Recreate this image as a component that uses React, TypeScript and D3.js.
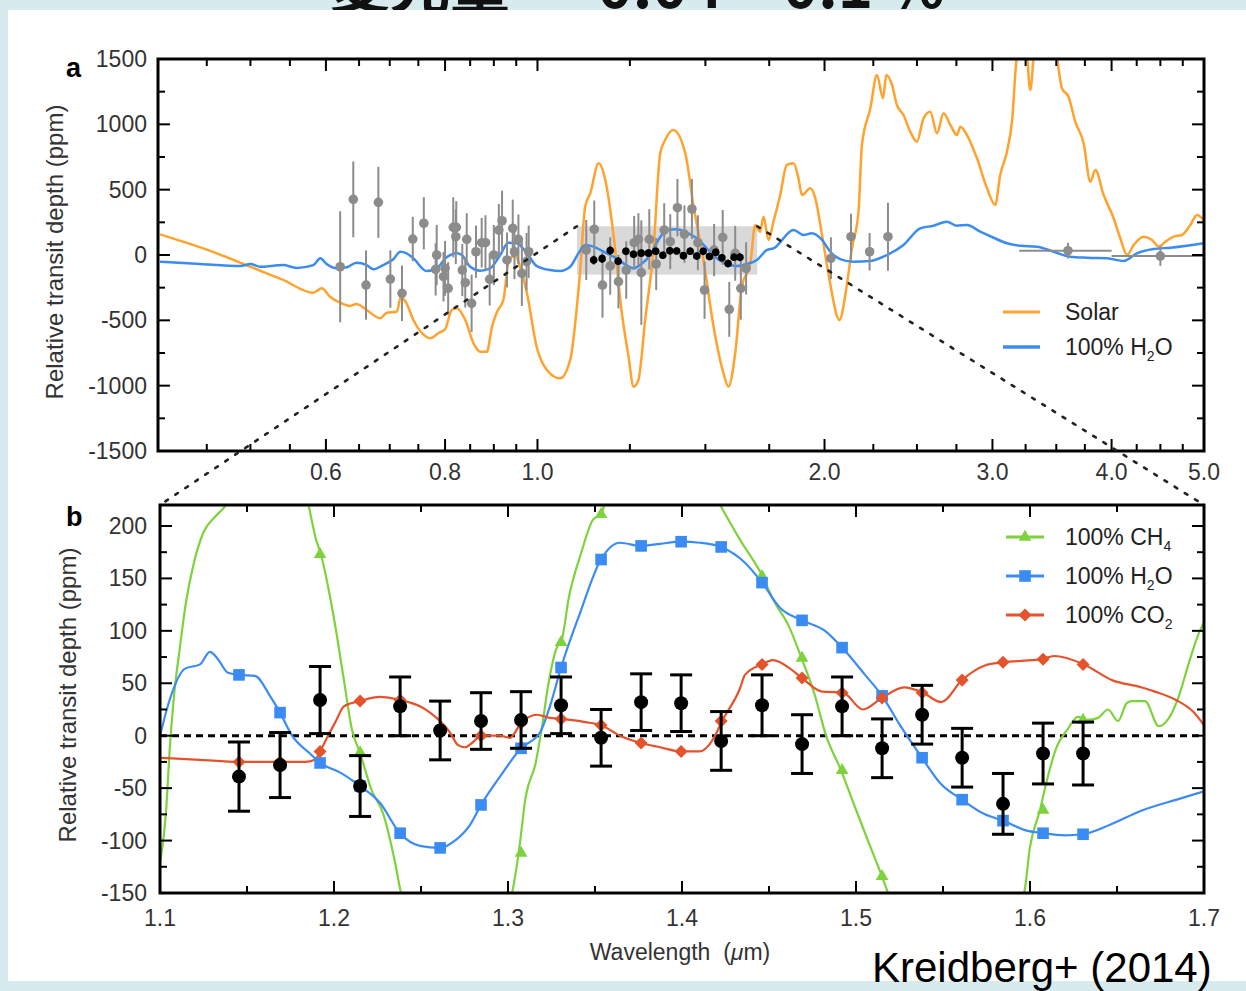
import React from 'react';
import * as d3 from 'd3';

// ---------- Panel a : models (wavelength µm, ppm) ----------
const solarModel: [number, number][] = [
  [0.402,158],[0.425,102],[0.461,13],[0.500,-90],[0.541,-191],[0.582,-289],[0.594,-255],[0.606,-319],[0.621,-365],[0.636,-390],
  [0.646,-375],[0.662,-421],[0.684,-484],[0.695,-442],[0.712,-434],[0.719,-319],[0.729,-370],[0.741,-497],[0.756,-595],[0.772,-637],
  [0.787,-599],[0.800,-569],[0.813,-421],[0.823,-408],[0.840,-497],[0.857,-676],[0.871,-740],[0.885,-740],[0.896,-549],[0.907,-434],
  [0.921,-344],[0.932,-64],[0.947,0],[0.959,-90],[0.975,-293],[0.998,-702],[1.023,-880],[1.056,-944],[1.082,-804],[1.108,-140],
  [1.122,370],[1.136,472],[1.159,702],[1.178,574],[1.201,166],[1.226,-446],[1.246,-778],[1.261,-1008],[1.276,-957],[1.297,-497],
  [1.323,38],[1.345,778],[1.361,880],[1.388,957],[1.429,778],[1.458,370],[1.493,-38],[1.530,-549],[1.567,-905],[1.586,-1008],
  [1.612,-752],[1.638,-243],[1.672,-64],[1.692,230],[1.712,178],[1.726,293],[1.747,115],[1.768,255],[1.797,459],[1.826,689],
  [1.856,702],[1.878,587],[1.894,459],[1.932,510],[1.956,434],[1.988,153],[2.020,-153],[2.074,-497],[2.103,-306],[2.137,51],
  [2.171,331],[2.189,842],[2.234,1123],[2.270,1378],[2.303,1199],[2.322,1378],[2.354,1301],[2.382,1148],[2.420,1071],[2.460,944],
  [2.500,867],[2.540,1046],[2.582,1097],[2.624,931],[2.666,1084],[2.710,995],[2.754,918],[2.776,982],[2.821,918],[2.890,740],
  [2.961,510],[3.020,383],[3.057,612],[3.107,791],[3.145,1020],[3.183,1520],[3.248,1650],[3.287,1263],[3.327,1650],[3.408,1750],
  [3.506,1505],[3.548,1276],[3.605,1211],[3.664,1020],[3.739,855],[3.800,561],[3.846,650],[3.924,459],[4.020,281],[4.085,128],
  [4.152,0],[4.219,77],[4.322,140],[4.411,115],[4.482,64],[4.555,102],[4.647,140],[4.742,153],[4.838,230],[4.917,306],[4.996,268]
];

const waterModelA: [number, number][] = [
  [0.402,-51],[0.443,-69],[0.488,-84],[0.500,-69],[0.512,-90],[0.541,-77],[0.559,-99],[0.582,-77],[0.592,-25],[0.601,-69],
  [0.616,-102],[0.631,-94],[0.646,-59],[0.662,-77],[0.673,-109],[0.689,-77],[0.706,-33],[0.718,25],[0.729,13],[0.741,-25],
  [0.765,-122],[0.784,-102],[0.803,-18],[0.823,13],[0.833,0],[0.850,-90],[0.871,-120],[0.892,-102],[0.914,0],[0.932,94],
  [0.951,90],[0.975,13],[0.998,-84],[1.031,-115],[1.056,-122],[1.082,-90],[1.104,13],[1.122,77],[1.145,64],[1.173,25],
  [1.201,-13],[1.231,-64],[1.261,-102],[1.281,-77],[1.313,0],[1.339,115],[1.367,191],[1.400,197],[1.434,171],[1.469,128],
  [1.505,51],[1.542,-25],[1.580,-69],[1.619,-84],[1.658,-69],[1.699,-38],[1.740,38],[1.768,51],[1.856,191],[1.901,153],
  [1.940,166],[1.988,115],[2.028,25],[2.077,-31],[2.145,-51],[2.234,-46],[2.326,0],[2.420,77],[2.520,204],[2.602,224],
  [2.688,255],[2.754,224],[2.821,230],[2.913,178],[3.008,132],[3.107,90],[3.208,71],[3.341,64],[3.478,25],[3.620,-13],
  [3.770,-21],[3.956,-25],[4.118,-46],[4.253,13],[4.427,46],[4.609,56],[4.799,71],[5.000,90]
];

// ---------- Panel a : other observations [wavelength, ppm, error] ----------
const grayPoints: [number, number, number][] = [
  [0.621,-90,425],[0.641,426,290],[0.661,-230,265],[0.681,403,272],[0.701,-184,220],[0.721,-293,213],[0.740,122,170],[0.760,243,200],
  [0.782,-110,200],[0.784,0,230],[0.797,-166,190],[0.800,-102,210],[0.806,-255,200],[0.816,212,230],[0.821,140,210],[0.822,212,200],
  [0.834,-115,200],[0.840,-212,190],[0.843,120,200],[0.853,-370,220],[0.862,25,200],[0.874,94,190],[0.882,94,210],[0.891,-186,200],
  [0.900,0,230],[0.911,191,200],[0.918,262,230],[0.929,-38,210],[0.942,204,220],[0.946,25,210],[0.955,120,190],[0.963,-140,250],
  [0.974,-51,220],[0.979,25,200],
  [1.125,38,230],[1.147,197,220],[1.170,-230,250],[1.192,-84,220],[1.216,-204,205],[1.239,-115,220],[1.263,94,205],[1.276,120,200],
  [1.285,-135,400],[1.310,120,230],[1.332,-69,200],[1.358,191,205],[1.378,102,210],[1.402,362,220],[1.426,160,220],[1.452,352,230],
  [1.473,94,210],[1.497,-268,220],[1.532,38,200],[1.564,135,210],[1.589,-416,210],[1.612,13,210],[1.634,-255,240],[1.655,-102,200],
  [2.031,-25,160],[2.132,140,176],[2.230,25,144],[2.331,140,260]
];
// Spitzer: [center, lower λ, upper λ, ppm, error]
const spitzerPoints: [number, number, number, number, number][] = [
  [3.6, 3.2, 4.0, 33, 60],
  [4.5, 4.0, 5.0, -8, 75]
];

// ---------- WFC3 data (panel a & b) ----------
const dataWl = [1.1454,1.1690,1.1920,1.2150,1.2380,1.2610,1.2845,1.3075,1.3305,1.3535,1.3765,1.3995,1.4225,1.4460,1.4690,1.4920,1.5150,1.5380,1.5610,1.5845,1.6075,1.6305];
const dataPpm = [-39,-28,34,-48,28,5,14,15,29,-2,32,31,-5,29,-8,28,-12,20,-21,-65,-17,-17];
const dataErr = [33,31,32,29,28,28,27,27,27,27,27,27,28,29,28,28,28,28,28,29,29,30];

// ---------- Panel b models ----------
const ch4Model: [number, number][] = [
  [1.1000,-121],[1.1034,-74],[1.1057,-10],[1.1080,37],[1.1115,85],[1.1149,127],[1.1195,165],[1.1250,194],[1.1318,209],[1.1374,219],
  [1.1600,330],[1.1851,222],[1.1897,187],[1.1925,173],[1.1966,142],[1.2011,101],[1.2057,53],[1.2103,6],[1.2149,-16],[1.2216,-52],
  [1.2282,-74],[1.2351,-121],[1.2385,-150],[1.2700,-260],[1.3023,-150],[1.3061,-112],[1.3102,-58],[1.3159,-26],[1.3193,6],[1.3236,53],
  [1.3283,85],[1.3305,89],[1.3351,133],[1.3420,174],[1.3489,206],[1.3534,211],[1.3557,222],[1.3900,330],[1.4213,222],[1.4333,187],
  [1.4463,152],[1.4523,130],[1.4615,104],[1.4687,74],[1.4759,41],[1.4828,0],[1.4914,-33],[1.4994,-68],[1.5066,-99],[1.5149,-134],
  [1.5184,-150],[1.5600,-260],[1.5966,-150],[1.6000,-106],[1.6057,-71],[1.6098,-42],[1.6155,-10],[1.6216,6],[1.6274,18],[1.6332,15],
  [1.6391,17],[1.6448,25],[1.6506,14],[1.6556,31],[1.6585,33],[1.6661,33],[1.6740,9],[1.6799,17],[1.6856,38],[1.6914,70],[1.6971,98],[1.7000,108]
];
const h2oModel: [number, number][] = [
  [1.1000,0],[1.1057,35],[1.1144,64],[1.1230,68],[1.1287,80],[1.1333,73],[1.1391,60],[1.1454,58],[1.1546,57],[1.1632,38],
  [1.1690,22],[1.1759,0],[1.1862,-17],[1.1920,-26],[1.2034,-35],[1.2149,-48],[1.2264,-64],[1.2379,-93],[1.2494,-105],[1.2609,-107],
  [1.2695,-100],[1.2782,-85],[1.2845,-66],[1.2954,-39],[1.3075,-12],[1.3184,3],[1.3241,28],[1.3305,65],[1.3414,117],[1.3534,168],
  [1.3644,184],[1.3764,181],[1.3874,183],[1.3994,185],[1.4103,184],[1.4224,180],[1.4362,165],[1.4460,146],[1.4563,122],[1.4690,110],
  [1.4822,100],[1.4920,84],[1.5052,58],[1.5150,38],[1.5253,10],[1.5379,-21],[1.5483,-45],[1.5609,-61],[1.5741,-75],[1.5845,-81],
  [1.5971,-90],[1.6075,-93],[1.6201,-95],[1.6305,-94],[1.6460,-85],[1.6632,-72],[1.6862,-60],[1.7000,-53]
];
const co2Model: [number, number][] = [
  [1.1000,-21],[1.1230,-23],[1.1454,-25],[1.1690,-25],[1.1833,-25],[1.1891,-23],[1.1920,-15],[1.1966,0],[1.2011,14],[1.2057,28],
  [1.2149,33],[1.2264,37],[1.2379,34],[1.2494,28],[1.2552,22],[1.2667,3],[1.2713,-9],[1.2753,-11],[1.2800,-6],[1.2845,0],
  [1.2954,0],[1.3011,-2],[1.3075,12],[1.3166,20],[1.3241,17],[1.3305,16],[1.3443,13],[1.3534,10],[1.3644,0],[1.3764,-7],
  [1.3874,-11],[1.3994,-15],[1.4098,-15],[1.4190,0],[1.4224,12],[1.4333,45],[1.4362,58],[1.4460,68],[1.4523,72],[1.4621,64],
  [1.4690,55],[1.4805,42],[1.4925,41],[1.5040,25],[1.5149,36],[1.5276,46],[1.5385,41],[1.5489,32],[1.5609,53],[1.5741,67],
  [1.5845,70],[1.6069,73],[1.6138,76],[1.6310,68],[1.6471,53],[1.6644,46],[1.6718,42],[1.6839,34],[1.6937,23],[1.7000,10]
];
// binned model values at the data wavelengths (null = off the chart)
const ch4Bins: (number | null)[] = [null,null,173,-16,null,null,null,-112,89,211,null,null,null,152,74,-33,-134,null,null,null,-71,15];
const h2oBins = [58,22,-26,-48,-93,-107,-66,-12,65,168,181,185,180,146,110,84,38,-21,-61,-81,-93,-94];
const co2Bins = [-25,-25,-15,33,34,3,0,12,16,10,-7,-15,14,68,55,41,36,41,53,70,73,68];

// ---------- axes ----------
const aMajorX = [0.6, 0.8, 1.0, 2.0, 3.0, 4.0];
const aMinorX = [0.45,0.5,0.55,0.65,0.7,0.75,0.85,0.9,0.95,1.25,1.5,1.75,2.25,2.5,2.75,3.25,3.5,3.75,4.25,4.5,4.75];
const aXLabels = [0.6, 0.8, 1.0, 2.0, 3.0, 4.0, 5.0];
const aYLabels = [1500, 1000, 500, 0, -500, -1000, -1500];
const aYMinor = [1250, 750, 250, -250, -750, -1250];
const bXLabels = [1.1, 1.2, 1.3, 1.4, 1.5, 1.6, 1.7];
const bXMinor = [1.15, 1.25, 1.35, 1.45, 1.55, 1.65];
const bYLabels = [200, 150, 100, 50, 0, -50, -100, -150];
const bYMinor = [175, 125, 75, 25, -25, -75, -125];

const ORANGE = '#ffa22e';
const BLUE = '#3b8cf2';
const GREEN = '#7ed23c';
const RED = '#e4532b';
const GRAY = '#8c8c8c';
const FONT = "'Liberation Sans', Arial, Helvetica, sans-serif";

export default function App() {
  const W = 1246, H = 991;
  const A = { x0: 158, x1: 1204, y0: 59, y1: 451 };
  const B = { x0: 160, x1: 1204, y0: 505, y1: 893 };
  const xa = d3.scaleLog().domain([0.4, 5]).range([A.x0, A.x1]);
  const ya = d3.scaleLinear().domain([-1500, 1500]).range([A.y1, A.y0]);
  const xb = d3.scaleLinear().domain([1.1, 1.7]).range([B.x0, B.x1]);
  const yb = d3.scaleLinear().domain([-150, 220]).range([B.y1, B.y0]);

  const lineA = d3.line<[number, number]>().x(d => xa(d[0])).y(d => ya(d[1])).curve(d3.curveMonotoneX);
  const lineB = d3.line<[number, number]>().x(d => xb(d[0])).y(d => yb(d[1])).curve(d3.curveMonotoneX);

  const sq = d3.symbol().type(d3.symbolSquare).size(135)() as string;
  const dia = d3.symbol().type(d3.symbolSquare).size(85)() as string;
  const tri = d3.symbol().type(d3.symbolTriangle).size(70)() as string;

  const MAJ = 12, MIN = 7;
  const tickCol = '#333';

  const sub = (main: string, s: string, rest: string) => (
    <>
      {main}
      <tspan fontSize={14} dy={6}>{s}</tspan>
      <tspan dy={-6}>{rest}</tspan>
    </>
  );

  return (
    <svg width={W} height={H} style={{ position: 'absolute', left: 0, top: 0 }} fontFamily={FONT}>
      <defs>
        <clipPath id="clipA"><rect x={A.x0} y={A.y0} width={A.x1 - A.x0} height={A.y1 - A.y0} /></clipPath>
        <clipPath id="clipB"><rect x={B.x0} y={B.y0} width={B.x1 - B.x0} height={B.y1 - B.y0} /></clipPath>
      </defs>
      <rect width={W} height={H} fill="#d7ebee" />
      <text x={330} y={8} fontFamily="'Noto Sans CJK JP', sans-serif" fontSize={60} fontWeight={700} fill="#111">変光量 ～ 0.04 – 0.1 %</text>
      <rect x={8} y={10} width={W - 8} height={971} fill="#ffffff" />

      {/* ---------------- Panel a ---------------- */}
      <g clipPath="url(#clipA)">
        <rect x={xa(1.1)} y={ya(220)} width={xa(1.7) - xa(1.1)} height={ya(-150) - ya(220)} fill="#d9d9d9" />
        <path d={lineA(solarModel) || ''} fill="none" stroke={ORANGE} strokeWidth={2.5} strokeLinejoin="round" />
        <path d={lineA(waterModelA) || ''} fill="none" stroke={BLUE} strokeWidth={2.5} strokeLinejoin="round" />
        {grayPoints.map((p, i) => (
          <g key={'g' + i}>
            <line x1={xa(p[0])} x2={xa(p[0])} y1={ya(p[1] - p[2])} y2={ya(p[1] + p[2])} stroke={GRAY} strokeWidth={2} />
            <circle cx={xa(p[0])} cy={ya(p[1])} r={4.8} fill={GRAY} />
          </g>
        ))}
        {spitzerPoints.map((p, i) => (
          <g key={'s' + i}>
            <line x1={xa(p[1])} x2={xa(p[2])} y1={ya(p[3])} y2={ya(p[3])} stroke={GRAY} strokeWidth={2} />
            <line x1={xa(p[0])} x2={xa(p[0])} y1={ya(p[3] - p[4])} y2={ya(p[3] + p[4])} stroke={GRAY} strokeWidth={2} />
            <circle cx={xa(p[0])} cy={ya(p[3])} r={4.8} fill={GRAY} />
          </g>
        ))}
        {dataWl.map((w, i) => (
          <g key={'d' + i}>
            <line x1={xa(w)} x2={xa(w)} y1={ya(dataPpm[i] - dataErr[i])} y2={ya(dataPpm[i] + dataErr[i])} stroke="#000" strokeWidth={2} />
            <circle cx={xa(w)} cy={ya(dataPpm[i])} r={3.8} fill="#000" />
          </g>
        ))}
      </g>
      <rect x={A.x0} y={A.y0} width={A.x1 - A.x0} height={A.y1 - A.y0} fill="none" stroke="#000" strokeWidth={3} />
      {aMajorX.concat(aMinorX).map((v, i) => {
        const len = aMajorX.includes(v) ? MAJ : MIN;
        return (
          <g key={'ax' + i}>
            <line x1={xa(v)} x2={xa(v)} y1={A.y1} y2={A.y1 - len} stroke="#000" strokeWidth={2} />
            <line x1={xa(v)} x2={xa(v)} y1={A.y0} y2={A.y0 + len} stroke="#000" strokeWidth={2} />
          </g>
        );
      })}
      {aYLabels.concat(aYMinor).map((v, i) => {
        const len = aYLabels.includes(v) ? MAJ : MIN;
        return (
          <g key={'ay' + i}>
            <line x1={A.x0} x2={A.x0 + len} y1={ya(v)} y2={ya(v)} stroke="#000" strokeWidth={2} />
            <line x1={A.x1} x2={A.x1 - len} y1={ya(v)} y2={ya(v)} stroke="#000" strokeWidth={2} />
          </g>
        );
      })}
      {aYLabels.map(v => (
        <text key={'ayl' + v} x={147} y={ya(v) + 8} textAnchor="end" fontSize={23} fill={tickCol}>{String(v)}</text>
      ))}
      {aXLabels.map(v => (
        <text key={'axl' + v} x={xa(v)} y={480} textAnchor="middle" fontSize={23} fill={tickCol}>{v.toFixed(1)}</text>
      ))}
      <text transform="translate(63,252) rotate(-90)" textAnchor="middle" fontSize={24} fill={tickCol}>Relative transit depth (ppm)</text>
      <text x={66} y={77} fontSize={27} fontWeight={700} fill="#000">a</text>
      {/* legend a */}
      <line x1={1003} x2={1040} y1={312} y2={312} stroke={ORANGE} strokeWidth={3} />
      <text x={1065} y={320} fontSize={23} fill="#222">Solar</text>
      <line x1={1003} x2={1040} y1={347} y2={347} stroke={BLUE} strokeWidth={3.5} />
      <text x={1065} y={355} fontSize={23} fill="#222">{sub('100% H', '2', 'O')}</text>

      {/* ---------------- Panel b ---------------- */}
      <g clipPath="url(#clipB)">
        <line x1={B.x0} x2={B.x1} y1={yb(0)} y2={yb(0)} stroke="#000" strokeWidth={3} strokeDasharray="7 5" />
        <path d={lineB(ch4Model) || ''} fill="none" stroke={GREEN} strokeWidth={2.2} />
        <path d={lineB(h2oModel) || ''} fill="none" stroke={BLUE} strokeWidth={2.2} />
        <path d={lineB(co2Model) || ''} fill="none" stroke={RED} strokeWidth={2.2} />
        {ch4Bins.map((v, i) => v === null ? null : (
          <path key={'cb' + i} d={tri} transform={`translate(${xb(dataWl[i])},${yb(v)})`} fill={GREEN} />
        ))}
        {h2oBins.map((v, i) => (
          <path key={'hb' + i} d={sq} transform={`translate(${xb(dataWl[i])},${yb(v)})`} fill={BLUE} />
        ))}
        {co2Bins.map((v, i) => (
          <path key={'ob' + i} d={dia} transform={`translate(${xb(dataWl[i])},${yb(v)}) rotate(45)`} fill={RED} />
        ))}
        {dataWl.map((w, i) => {
          const x = xb(w);
          const yt = yb(dataPpm[i] + dataErr[i]);
          const yl = yb(dataPpm[i] - dataErr[i]);
          return (
            <g key={'bd' + i}>
              <line x1={x} x2={x} y1={yt} y2={yl} stroke="#000" strokeWidth={3} />
              <line x1={x - 11} x2={x + 11} y1={yt} y2={yt} stroke="#000" strokeWidth={3} />
              <line x1={x - 11} x2={x + 11} y1={yl} y2={yl} stroke="#000" strokeWidth={3} />
              <circle cx={x} cy={yb(dataPpm[i])} r={7} fill="#000" />
            </g>
          );
        })}
      </g>
      <rect x={B.x0} y={B.y0} width={B.x1 - B.x0} height={B.y1 - B.y0} fill="none" stroke="#000" strokeWidth={3} />
      {bXLabels.concat(bXMinor).map((v, i) => {
        const len = bXLabels.includes(v) ? MAJ : MIN;
        return (
          <g key={'bx' + i}>
            <line x1={xb(v)} x2={xb(v)} y1={B.y1} y2={B.y1 - len} stroke="#000" strokeWidth={2} />
            <line x1={xb(v)} x2={xb(v)} y1={B.y0} y2={B.y0 + len} stroke="#000" strokeWidth={2} />
          </g>
        );
      })}
      {bYLabels.concat(bYMinor).map((v, i) => {
        const len = bYLabels.includes(v) ? MAJ : MIN;
        return (
          <g key={'by' + i}>
            <line x1={B.x0} x2={B.x0 + len} y1={yb(v)} y2={yb(v)} stroke="#000" strokeWidth={2} />
            <line x1={B.x1} x2={B.x1 - len} y1={yb(v)} y2={yb(v)} stroke="#000" strokeWidth={2} />
          </g>
        );
      })}
      {bYLabels.map(v => (
        <text key={'byl' + v} x={147} y={yb(v) + 8} textAnchor="end" fontSize={23} fill={tickCol}>{String(v)}</text>
      ))}
      {bXLabels.map(v => (
        <text key={'bxl' + v} x={xb(v)} y={926} textAnchor="middle" fontSize={23} fill={tickCol}>{v.toFixed(1)}</text>
      ))}
      <text x={680} y={960} textAnchor="middle" fontSize={23} fill={tickCol}>
        Wavelength {'\u00a0'}(<tspan fontStyle="italic">μ</tspan>m)
      </text>
      <text transform="translate(76,695) rotate(-90)" textAnchor="middle" fontSize={24} fill={tickCol}>Relative transit depth (ppm)</text>
      <text x={66} y={526} fontSize={27} fontWeight={700} fill="#000">b</text>
      {/* legend b */}
      <line x1={1006} x2={1044} y1={537} y2={537} stroke={GREEN} strokeWidth={3} />
      <path d={tri} transform="translate(1025,537)" fill={GREEN} />
      <text x={1065} y={545} fontSize={23} fill="#222">{sub('100% CH', '4', '')}</text>
      <line x1={1006} x2={1044} y1={576} y2={576} stroke={BLUE} strokeWidth={3} />
      <path d={sq} transform="translate(1025,576)" fill={BLUE} />
      <text x={1065} y={584} fontSize={23} fill="#222">{sub('100% H', '2', 'O')}</text>
      <line x1={1006} x2={1044} y1={615} y2={615} stroke={RED} strokeWidth={3} />
      <path d={dia} transform="translate(1025,615) rotate(45)" fill={RED} />
      <text x={1065} y={623} fontSize={23} fill="#222">{sub('100% CO', '2', '')}</text>

      {/* projection lines */}
      <line x1={xa(1.1)} y1={ya(220)} x2={xb(1.1)} y2={yb(220)} stroke="#222" strokeWidth={2.6} strokeDasharray="3 9" strokeLinecap="round" />
      <line x1={xa(1.7)} y1={ya(220)} x2={xb(1.7)} y2={yb(220)} stroke="#222" strokeWidth={2.6} strokeDasharray="3 9" strokeLinecap="round" />

      <text x={872} y={982} fontSize={42} fill="#000">Kreidberg+ (2014)</text>
    </svg>
  );
}
